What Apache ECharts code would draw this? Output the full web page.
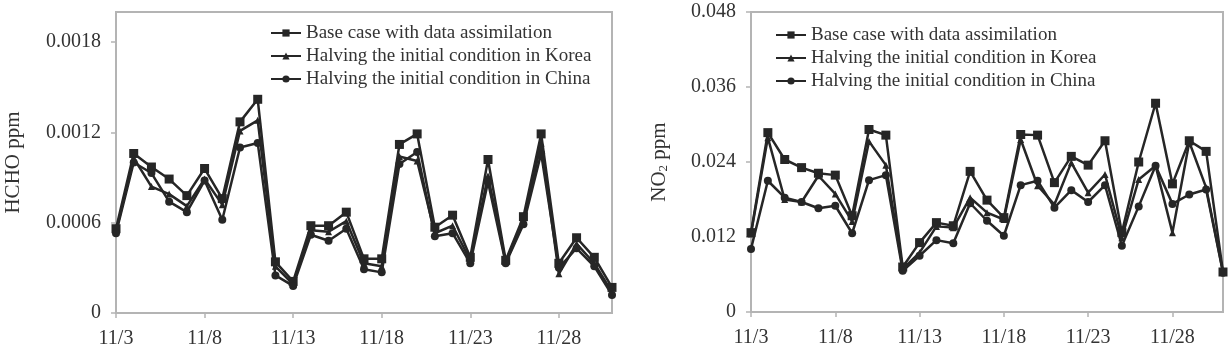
<!DOCTYPE html>
<html>
<head>
<meta charset="utf-8">
<title>HCHO / NO2</title>
<script src="https://cdn.jsdelivr.net/npm/echarts@6/dist/echarts.min.js"></script>
<style>
	html, body { margin: 0; padding: 0; background: #fff; }
	#chart { width: 1231px; height: 354px; }
</style>
</head>
<body>
<div id="chart"></div>
<script>
	// days on the x axis
	var dates = ['11/3', '11/4', '11/5', '11/6', '11/7', '11/8', '11/9', '11/10', '11/11', '11/12',
		'11/13', '11/14', '11/15', '11/16', '11/17', '11/18', '11/19', '11/20', '11/21', '11/22',
		'11/23', '11/24', '11/25', '11/26', '11/27', '11/28', '11/29', '11/30', '12/1'];

	var seriesNames = ['Base case with data assimilation', 'Halving the initial condition in Korea', 'Halving the initial condition in China'];

	// HCHO (ppm)
	var hchoBase = [0.00056, 0.00106, 0.00097, 0.00089, 0.00078, 0.00096, 0.00076, 0.00127, 0.00142, 0.00034,
		0.00021, 0.00058, 0.00058, 0.00067, 0.00036, 0.00036, 0.00112, 0.00119, 0.00057, 0.00065,
		0.00037, 0.00102, 0.00035, 0.00064, 0.00119, 0.00033, 0.00050, 0.00037, 0.00017];
	var hchoKorea = [0.00054, 0.00103, 0.00084, 0.00079, 0.00071, 0.00089, 0.00072, 0.00121, 0.00128, 0.00031,
		0.00019, 0.00055, 0.00054, 0.00061, 0.00033, 0.00031, 0.00104, 0.00101, 0.00053, 0.00058,
		0.00035, 0.00091, 0.00034, 0.00060, 0.00113, 0.00026, 0.00046, 0.00033, 0.00014];
	var hchoChina = [0.00053, 0.00100, 0.00093, 0.00074, 0.00067, 0.00088, 0.00062, 0.00110, 0.00113, 0.00025,
		0.00018, 0.00052, 0.00048, 0.00056, 0.00029, 0.00027, 0.00099, 0.00107, 0.00051, 0.00053,
		0.00033, 0.00087, 0.00033, 0.00059, 0.00106, 0.00030, 0.00043, 0.00031, 0.00012];

	// NO2 (ppm)
	var no2Base = [0.0127, 0.0287, 0.0244, 0.0231, 0.0222, 0.0219, 0.0154, 0.0292, 0.0283, 0.0072,
		0.0111, 0.0143, 0.0138, 0.0225, 0.0179, 0.0151, 0.0284, 0.0283, 0.0207, 0.0249,
		0.0235, 0.0274, 0.0127, 0.0240, 0.0334, 0.0205, 0.0274, 0.0257, 0.0064];
	var no2Korea = [0.0125, 0.0279, 0.0180, 0.0176, 0.0218, 0.0189, 0.0145, 0.0273, 0.0235, 0.0069,
		0.0095, 0.0137, 0.0135, 0.0183, 0.0159, 0.0148, 0.0276, 0.0202, 0.0172, 0.0239,
		0.0191, 0.0220, 0.0119, 0.0212, 0.0234, 0.0127, 0.0272, 0.0199, 0.0064];
	var no2China = [0.0101, 0.0210, 0.0183, 0.0176, 0.0166, 0.0170, 0.0126, 0.0211, 0.0219, 0.0066,
		0.0090, 0.0115, 0.0110, 0.0174, 0.0146, 0.0122, 0.0203, 0.0210, 0.0167, 0.0195,
		0.0176, 0.0203, 0.0106, 0.0169, 0.0234, 0.0173, 0.0188, 0.0196, 0.0063];

	// y tick labels
	var hchoTicks = [0, 0.0006, 0.0012, 0.0018];
	var no2Ticks = [0, 0.012, 0.024, 0.036, 0.048];

	var font = 'Liberation Serif';
	var frameColor = '#b4b4b4';
	var lineColor = '#262626';

	function xAxisOpt(gridIndex) {
		return {
			type: 'category',
			gridIndex: gridIndex,
			data: dates,
			boundaryGap: false,
			axisLine: { lineStyle: { color: frameColor, width: 2 } },
			axisTick: { interval: 4, length: 5, lineStyle: { color: frameColor, width: 1.5 } },
			axisLabel: { interval: 4, margin: 16, fontFamily: font, fontSize: 20, color: '#333' },
			splitLine: { show: false }
		};
	}

	function yAxisOpt(gridIndex, max, ticks, name, nameGap, rich) {
		return {
			type: 'value',
			gridIndex: gridIndex,
			min: 0,
			max: max,
			name: name,
			nameLocation: 'middle',
			nameGap: nameGap,
			nameTextStyle: { fontFamily: font, fontSize: 21, color: '#333', rich: rich },
			axisLine: { show: true, lineStyle: { color: frameColor, width: 2 } },
			axisTick: { show: true, length: 5, customValues: ticks, lineStyle: { color: frameColor, width: 1.5 } },
			axisLabel: { customValues: ticks, margin: 15, fontFamily: font, fontSize: 20, color: '#333' },
			splitLine: { show: false }
		};
	}

	// one line series per case and panel
	var symbols = ['rect', 'triangle', 'circle'];
	var symbolSizes = [9, 7, 8];
	function lineSeries(idx, data, axisIndex) {
		return {
			name: seriesNames[idx],
			type: 'line',
			xAxisIndex: axisIndex,
			yAxisIndex: axisIndex,
			data: data,
			symbol: symbols[idx],
			symbolSize: symbolSizes[idx],
			showAllSymbol: true,
			itemStyle: { color: lineColor },
			lineStyle: { color: lineColor, width: 2.5 },
			animation: false
		};
	}

	function legendOpt(left, top) {
		return {
			orient: 'vertical',
			left: left,
			top: top,
			itemWidth: 30,
			itemHeight: 9,
			itemGap: 3,
			data: seriesNames,
			textStyle: { fontFamily: font, fontSize: 19, color: '#333', lineHeight: 20 }
		};
	}

	var chart = echarts.init(document.getElementById('chart'), null, { renderer: 'canvas' });
	chart.setOption({
		backgroundColor: '#fff',
		animation: false,
		legend: [legendOpt(265, 18), legendOpt(770, 20)],
		grid: [
			{ left: 116, right: 619, top: 12, bottom: 41, show: true, borderColor: frameColor, borderWidth: 2 },
			{ left: 751, right: 8, top: 12, bottom: 42, show: true, borderColor: frameColor, borderWidth: 2 }
		],
		xAxis: [xAxisOpt(0), xAxisOpt(1)],
		yAxis: [
			yAxisOpt(0, 0.002, hchoTicks, 'HCHO ppm', 92),
			yAxisOpt(1, 0.048, no2Ticks, '{a|NO}{s|2}{a| ppm}', 81, {
				a: { fontFamily: font, fontSize: 21, color: '#333', lineHeight: 22 },
				s: { fontFamily: font, fontSize: 13, color: '#333', lineHeight: 22, padding: [9, 0, 0, 0] }
			})
		],
		series: [
			lineSeries(0, hchoBase, 0),
			lineSeries(1, hchoKorea, 0),
			lineSeries(2, hchoChina, 0),
			lineSeries(0, no2Base, 1),
			lineSeries(1, no2Korea, 1),
			lineSeries(2, no2China, 1)
		]
	});
</script>
</body>
</html>
